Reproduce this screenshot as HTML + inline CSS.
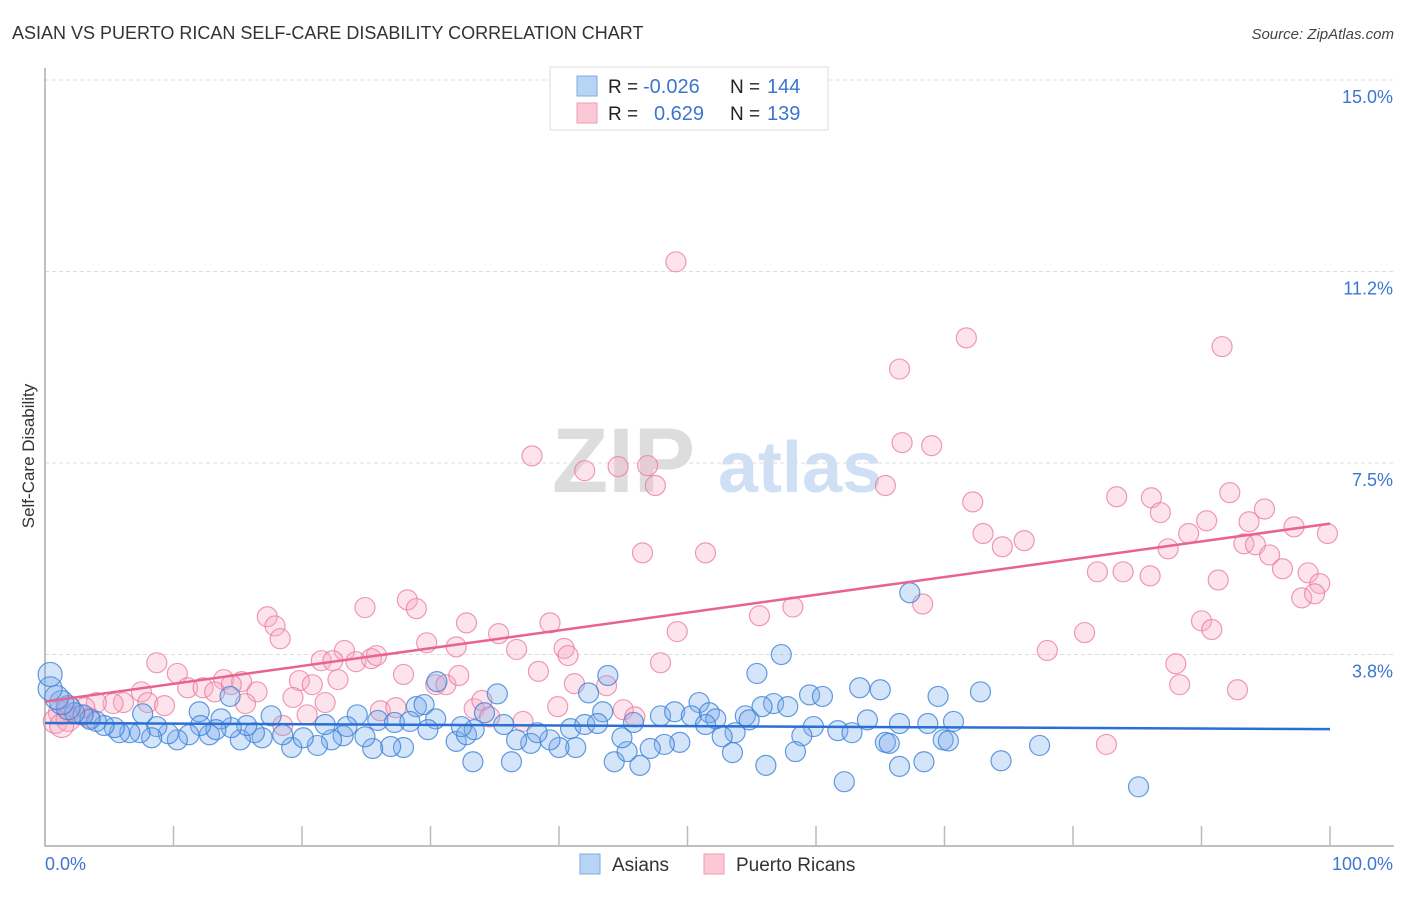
<!DOCTYPE html>
<html><head><meta charset="utf-8"><style>
body{margin:0;background:#fff;font-family:"Liberation Sans",sans-serif;}
svg text{font-family:"Liberation Sans",sans-serif;}
</style></head><body>
<svg id="chart" width="1406" height="892" viewBox="0 0 1406 892" xmlns="http://www.w3.org/2000/svg">
<text x="12" y="39" font-size="18" fill="#333">ASIAN VS PUERTO RICAN SELF-CARE DISABILITY CORRELATION CHART</text>
<text x="1394" y="39" font-size="15" fill="#444" text-anchor="end" font-style="italic">Source: ZipAtlas.com</text>
<g>
<text x="552" y="492" font-size="92" fill="#ddd" font-family="Liberation Serif" font-weight="bold">ZIP</text>
<text x="718" y="492" font-size="72" fill="#cfe0f4" font-weight="bold">atlas</text>
</g>
<g id="grid"></g>
<g id="axes"></g>
<g id="marks"></g>
<text transform="translate(34,456) rotate(-90)" font-size="17" fill="#333" text-anchor="middle">Self-Care Disability</text>
<g>
<rect x="550" y="67" width="278" height="63" fill="#fff" stroke="#ddd"/>
<rect x="577" y="76" width="20" height="20" fill="#b8d4f5" stroke="#7aaee6"/>
<rect x="577" y="103" width="20" height="20" fill="#fbc8d6" stroke="#f29ab4"/>
<text x="608" y="93" font-size="19" fill="#222">R = </text>
<text x="643" y="93" font-size="20" fill="#3b76d1">-0.026</text>
<text x="730" y="93" font-size="19" fill="#222">N = </text>
<text x="767" y="93" font-size="20" fill="#3b76d1">144</text>
<text x="608" y="120" font-size="19" fill="#222">R = </text>
<text x="654" y="120" font-size="20" fill="#3b76d1">0.629</text>
<text x="730" y="120" font-size="19" fill="#222">N = </text>
<text x="767" y="120" font-size="20" fill="#3b76d1">139</text>
</g>
<g>
<rect x="580" y="854" width="20" height="20" fill="#b8d4f5" stroke="#7aaee6"/>
<text x="612" y="871" font-size="19" fill="#333">Asians</text>
<rect x="704" y="854" width="20" height="20" fill="#fbc8d6" stroke="#f29ab4"/>
<text x="736" y="871" font-size="19" fill="#333">Puerto Ricans</text>
</g>
</svg>
<script>
const yTicks=[15.0,11.25,7.5,3.75];
const yTickLabels=["15.0%","11.2%","7.5%","3.8%"];
const xTickLabels=["0.0%","100.0%"];
const asianX=[67.3,57.3,43.8,55.4,30.5,65.0,72.8,69.5,63.4,59.5,60.5,35.2,42.3,50.9,56.7,57.8,55.8,28.9,29.5,14.4,12.0,17.6,24.3,30.4,34.2,43.4,47.9,49.0,50.3,51.7,52.2,54.5,54.8,51.4,53.7,52.7,59.8,64.0,66.5,68.7,70.7,61.7,62.8,58.9,69.9,70.3,65.4,65.7,77.4,74.4,68.4,66.5,56.1,53.5,62.2,85.1,58.4,49.4,48.2,47.1,46.3,44.3,45.3,44.9,41.3,40.0,39.3,37.8,36.7,36.3,33.3,32.0,32.8,33.4,32.4,35.7,38.3,40.9,42.0,43.0,45.8,27.9,26.9,25.5,24.9,23.2,22.3,23.5,21.8,25.9,27.2,28.4,29.8,21.2,19.2,20.1,18.5,16.9,16.3,15.2,15.7,14.5,13.7,12.8,13.3,12.1,11.2,10.3,9.6,8.7,8.3,7.4,6.6,5.8,5.4,4.6,4.0,3.5,2.96,2.3,1.8,1.3,0.9,0.4,0.4,7.6];
const asianY=[4.96,3.75,3.34,3.38,3.22,3.06,3.02,2.93,3.1,2.96,2.93,2.98,3.0,2.81,2.79,2.73,2.73,2.73,2.77,2.93,2.63,2.55,2.57,2.49,2.61,2.63,2.55,2.63,2.55,2.61,2.49,2.55,2.47,2.38,2.22,2.14,2.34,2.47,2.4,2.4,2.44,2.26,2.22,2.16,2.08,2.06,2.03,2.01,1.97,1.67,1.65,1.56,1.58,1.83,1.26,1.16,1.85,2.03,1.99,1.91,1.58,1.65,1.85,2.12,1.93,1.93,2.08,2.01,2.08,1.65,1.65,2.05,2.18,2.28,2.34,2.38,2.22,2.3,2.38,2.4,2.42,1.93,1.95,1.91,2.14,2.16,2.08,2.34,2.38,2.46,2.42,2.44,2.28,1.97,1.93,2.12,2.18,2.12,2.22,2.08,2.36,2.32,2.49,2.18,2.28,2.36,2.18,2.08,2.2,2.34,2.12,2.22,2.22,2.22,2.32,2.36,2.44,2.48,2.57,2.61,2.71,2.81,2.91,3.08,3.36,2.59];
const prX=[49.1,71.7,91.6,66.5,66.7,69.0,37.9,42.0,44.6,46.9,47.5,65.4,72.2,83.4,86.1,92.2,94.9,86.8,73.0,90.4,93.7,97.2,99.8,89.0,74.5,76.2,87.4,93.3,94.2,95.3,46.5,51.4,81.9,83.9,86.0,91.3,96.3,98.3,99.2,97.8,98.8,68.3,58.2,55.6,90.0,90.8,80.9,49.2,78.0,88.0,88.3,92.8,82.6,17.3,17.9,18.3,24.9,28.2,28.9,32.8,35.3,39.3,29.7,32.0,36.7,40.4,40.7,23.3,21.5,22.4,24.2,25.4,25.8,8.7,10.3,13.9,15.3,14.5,16.5,11.1,12.3,13.2,19.8,20.8,22.8,27.9,30.4,31.2,32.2,38.4,41.2,43.7,47.9,7.5,6.1,8.0,9.3,5.3,4.0,19.3,21.8,15.6,33.4,34.0,39.9,26.1,27.3,20.4,34.6,37.2,45.0,45.9,18.5,1.2,1.9,2.7,3.5,0.8,1.8,1.3,3.1];
const prY=[11.44,9.95,9.78,9.34,7.9,7.84,7.64,7.35,7.43,7.45,7.06,7.06,6.74,6.84,6.82,6.92,6.6,6.53,6.12,6.37,6.35,6.25,6.12,6.12,5.86,5.98,5.82,5.92,5.9,5.7,5.74,5.74,5.37,5.37,5.29,5.21,5.43,5.35,5.14,4.86,4.94,4.74,4.68,4.51,4.41,4.24,4.18,4.2,3.83,3.57,3.16,3.06,1.99,4.49,4.31,4.06,4.67,4.82,4.65,4.37,4.16,4.37,3.98,3.9,3.85,3.87,3.73,3.83,3.63,3.63,3.61,3.67,3.73,3.59,3.38,3.26,3.22,3.16,3.02,3.1,3.1,3.02,3.24,3.16,3.26,3.36,3.16,3.16,3.34,3.42,3.18,3.14,3.59,3.02,2.81,2.81,2.75,2.79,2.81,2.91,2.81,2.79,2.69,2.85,2.73,2.65,2.71,2.57,2.53,2.44,2.67,2.53,2.36,2.61,2.67,2.57,2.51,2.44,2.48,2.36,2.71];

const NS="http://www.w3.org/2000/svg";
const X0=45,X1=1330,YTOP=80,YBOT=846;
function sx(v){return X0+(v/100)*(X1-X0);}
function sy(v){return YTOP+(15-v)*51.07;}
function mk(tag,attrs,parent){const e=document.createElementNS(NS,tag);for(const k in attrs)e.setAttribute(k,attrs[k]);parent.appendChild(e);return e;}
const grid=document.getElementById('grid'),axes=document.getElementById('axes'),marks=document.getElementById('marks');
yTicks.forEach((t,i)=>{
  const l=mk('line',{x1:X0,x2:1394,y1:sy(t),y2:sy(t),stroke:'#ddd','stroke-dasharray':'4,3'},grid);
  
  
  const tx=mk('text',{x:1393,y:sy(t)+23,'font-size':18,fill:'#3b76d1','text-anchor':'end'},axes);
  tx.textContent=yTickLabels[i];
  
  
});
const ax=mk('path',{d:`M${X0},68 V${YBOT} H1394`,fill:'none',stroke:'#aaa','stroke-width':1.5},axes);


for(let i=1;i<=10;i++){
  const t=mk('line',{x1:sx(i*10),x2:sx(i*10),y1:826,y2:YBOT,stroke:'#bbb','stroke-width':1.5},axes);
  
  
}
const xl0=mk('text',{x:45,y:870,'font-size':18,fill:'#3b76d1'},axes);xl0.textContent=xTickLabels[0];


const xl1=mk('text',{x:1393,y:870,'font-size':18,fill:'#3b76d1','text-anchor':'end'},axes);xl1.textContent=xTickLabels[1];



function drawSeries(xs,ys,fill,stroke,name){
  const g=mk('g',{},marks);
  
  
  xs.forEach((x,i)=>{
    const r=x<2?12:10;
    const c=mk('circle',{cx:sx(x),cy:sy(ys[i]),r:r,fill:fill,stroke:stroke,'stroke-width':1.2},g);
    
    
  });
}
function fit(xs,ys){const n=xs.length;let mx=0,my=0;xs.forEach((x,i)=>{mx+=x;my+=ys[i];});mx/=n;my/=n;let a=0,b=0;xs.forEach((x,i)=>{a+=(x-mx)*(ys[i]-my);b+=(x-mx)*(x-mx);});const s=a/b;return [my-s*mx,my+s*(100-mx)];}
drawSeries(prX,prY,'rgba(248,170,195,0.32)','rgba(235,120,155,0.75)','puerto-rican');
drawSeries(asianX,asianY,'rgba(120,170,235,0.32)','rgba(60,130,215,0.8)','asian');
const fa=fit(asianX,asianY),fp=fit(prX,prY);
const la=mk('line',{x1:sx(0),y1:sy(fa[0]),x2:sx(100),y2:sy(fa[1]),stroke:'#2a6fd1','stroke-width':2.5},marks);


const lp=mk('line',{x1:sx(0),y1:sy(fp[0]),x2:sx(100),y2:sy(fp[1]),stroke:'#e8638f','stroke-width':2.5},marks);


</script>
</body></html>
